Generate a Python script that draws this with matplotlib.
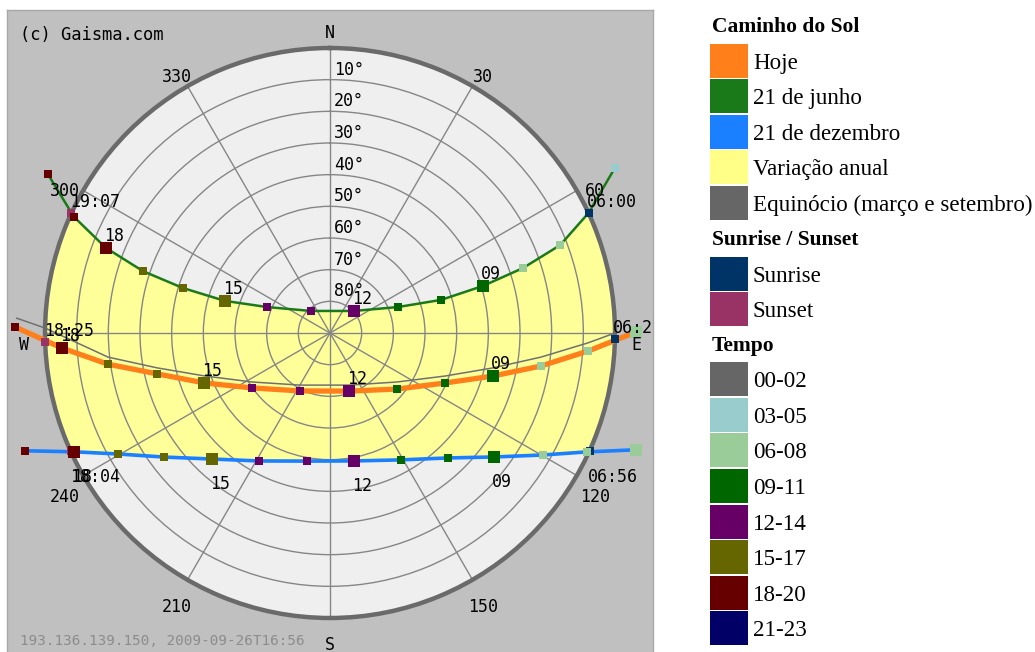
import numpy as np
import matplotlib
matplotlib.use("Agg")
import matplotlib.pyplot as plt
from matplotlib.patches import Rectangle

# ---------------- data (azimuth deg clockwise from N, altitude deg) ----------------
alt_rings = [10, 20, 30, 40, 50, 60, 70, 80]
az_ticks = [0, 30, 60, 90, 120, 150, 180, 210, 240, 270, 300, 330]
az_labels = ["N", "30", "60", "E", "120", "150", "S", "210", "240", "W", "300", "330"]

# 21 June (hourly points)
jun_hours = [5, 6, 7, 8, 9, 10, 11, 12, 13, 14, 15, 16, 17, 18, 19, 20]
jun_az = [59.9, 65.1, 69.1, 71.4, 72.9, 73.4, 69.1, 47.5, 319.2, 292.4, 287.0, 287.0, 288.3, 290.8, 294.4, 299.4]
jun_alt = [-14.0, 0.0, 12.2, 25.7, 39.5, 53.4, 67.0, 79.7, 80.8, 68.5, 55.3, 41.5, 27.8, 14.3, 1.2, -12.3]

# Today (hourly points)
hoje_hours = [6, 7, 8, 9, 10, 11, 12, 13, 14, 15, 16, 17, 18, 19]
hoje_az = [89.8, 94.0, 98.9, 104.8, 113.5, 129.9, 161.9, 207.4, 234.8, 248.4, 256.7, 262.0, 266.8, 271.1]
hoje_alt = [-6.7, 8.3, 22.6, 36.8, 50.4, 62.4, 70.7, 69.4, 59.9, 47.2, 33.9, 19.2, 5.2, -9.5]

# 21 December (hourly points)
dez_hours = [6, 7, 8, 9, 10, 11, 12, 13, 14, 15, 16, 17, 18, 19]
dez_az = [110.9, 114.8, 119.8, 127.1, 136.6, 150.8, 169.4, 190.2, 209.0, 223.1, 233.2, 240.3, 245.1, 248.9]
dez_alt = [-13.4, 0.5, 12.5, 25.1, 35.7, 44.1, 48.9, 48.9, 43.8, 35.5, 24.6, 12.9, 0.9, -13.3]

# Equinox path
equi_az = [272.7, 271.0, 263.8, 258.6, 251.2, 237.9, 210.0, 160.1, 126.2, 110.5, 102.1, 96.5, 92.2, 90.0]
equi_alt = [-9.0, 0.0, 19.5, 34.3, 48.0, 60.9, 71.0, 72.5, 63.8, 51.2, 37.4, 22.9, 8.5, 0.0]

# Sunrise / sunset: [June, Today, December]
rise_az = [65.1, 91.2, 114.4]
rise_alt = [0.0, 0.0, 0.0]
rise_txt = ["06:00", "06:22", "06:56"]
set_az = [294.8, 268.2, 245.5]
set_alt = [0.0, 0.0, 0.0]
set_txt = ["19:07", "18:25", "18:04"]

# Legend
path_labels = ["Hoje", "21 de junho", "21 de dezembro", "Variação anual", "Equinócio (março e setembro)"]
path_colors = ["#ff7f1a", "#1a7a1a", "#1a80ff", "#ffff88", "#666666"]
rs_labels = ["Sunrise", "Sunset"]
rs_colors = ["#003366", "#993366"]
tempo_labels = ["00-02", "03-05", "06-08", "09-11", "12-14", "15-17", "18-20", "21-23"]
tempo_colors = ["#666666", "#99cccc", "#99cc99", "#006600", "#660066", "#666600", "#660000", "#000066"]

copyright_txt = "(c) Gaisma.com"
stamp_txt = "193.136.139.150, 2009-09-26T16:56"

# ---------------- figure ----------------
W, H = 1035, 652
CX, CY, R = 330, 333, 285
MONO = "DejaVu Sans Mono"
SERIF = "Liberation Serif"

fig = plt.figure(figsize=(W / 100, H / 100), dpi=100)
fig.patch.set_facecolor("white")


def px_axes(x0, y0, x1, y1, **kw):
    return fig.add_axes([x0 / W, 1 - y1 / H, (x1 - x0) / W, (y1 - y0) / H], **kw)


bg = px_axes(7, 10, 653, 670)
bg.set_facecolor("#c0c0c0")
bg.set_xticks([])
bg.set_yticks([])
for s in bg.spines.values():
    s.set_color("#a8a8a8")
    s.set_linewidth(1)

ax = px_axes(CX - R, CY - R, CX + R, CY + R, projection="polar")
ax.set_theta_zero_location("N")
ax.set_theta_direction(-1)
ax.set_facecolor("#efefef")
ax.spines["polar"].set_color("#6a6a6a")
ax.spines["polar"].set_linewidth(3.2)

rad = np.deg2rad
GRID = "#868686"

# annual variation region (clipped to the horizon by the axes circle)
poly_t = rad(np.r_[jun_az, dez_az[::-1]])
poly_r = np.r_[jun_alt, dez_alt[::-1]]
ax.fill(poly_t, poly_r, color="#ffff99", lw=0, zorder=1)

# grid
ax.set_xticks(rad(az_ticks))
ax.set_xticklabels([""] * len(az_ticks))
ax.set_yticks(alt_rings)
ax.set_yticklabels([])
ax.grid(True, color=GRID, linewidth=1.0)
ax.tick_params(axis="x", direction="out", length=6, width=1, color=GRID)
ax.tick_params(axis="y", length=0)


def ann(txt, t, r, dx, dy, ha="left", va="baseline", size=12, color="black"):
    a = ax.annotate(txt, (t, r), xytext=(dx, dy), textcoords="offset pixels",
                    ha=ha, va=va, fontsize=size, family=MONO, color=color,
                    annotation_clip=False, zorder=8)
    a.set_clip_box(bg.bbox)
    a.set_clip_on(True)
    return a


# paths
ax.plot(rad(equi_az), equi_alt, color="#707070", lw=1.1, zorder=2, clip_on=False)
ax.plot(rad(dez_az), dez_alt, color=path_colors[2], lw=2.6, zorder=3, clip_on=False)
ax.plot(rad(hoje_az), hoje_alt, color=path_colors[0], lw=3.8, zorder=3, clip_on=False)
ax.plot(rad(jun_az), jun_alt, color=path_colors[1], lw=1.8, zorder=3, clip_on=False)

# sunrise / sunset markers and labels
ax.scatter(rad(rise_az), rise_alt, s=34, marker="s", c=rs_colors[0], linewidths=0, zorder=4, clip_on=False)
ax.scatter(rad(set_az), set_alt, s=34, marker="s", c=rs_colors[1], linewidths=0, zorder=4, clip_on=False)
below = [False, False, True]
for i in range(3):
    dy = -31 if below[i] else 6
    ann(rise_txt[i], rad(rise_az[i]), rise_alt[i], -2, dy)
    ann(set_txt[i], rad(set_az[i]), set_alt[i], -1, dy)

# hourly markers (an hour that coincides with sunrise/sunset shows only that marker)
paths = [(jun_hours, jun_az, jun_alt, False, 0),
         (hoje_hours, hoje_az, hoje_alt, False, 1),
         (dez_hours, dez_az, dez_alt, True, 2)]
for hours, az, alt, lab_below, k in paths:
    keep = [i for i, h in enumerate(hours) if f"{h:02d}:00" not in (rise_txt[k], set_txt[k])]
    hh = [hours[i] for i in keep]
    cols = [tempo_colors[h // 3] for h in hh]
    sizes = [78 if h % 3 == 0 else 34 for h in hh]
    ax.scatter(rad([az[i] for i in keep]), [alt[i] for i in keep], s=sizes, c=cols,
               marker="s", linewidths=0, zorder=5, clip_on=False)
    for h, a_, e_ in zip(hours, az, alt):
        if h % 3 == 0 and 9 <= h <= 18:
            ann(f"{h:02d}", rad(a_), e_, -2, -30 if lab_below else 7)

# altitude labels
for a in alt_rings:
    ann(f"{a}°", 0.0, a, 4, 5)

# azimuth labels (slightly lower on the sides, as in the original)
for t, lab in zip(az_ticks, az_labels):
    ann(lab, rad(t), -6.6, 0, -6 - 6 * abs(np.sin(rad(t))), ha="center", va="center")

ax.set_ylim(90, 0)
ax.set_xlim(0, 2 * np.pi)

# ---------------- overlay (texts + legend) in pixel coordinates ----------------
ov = fig.add_axes([0, 0, 1, 1])
ov.set_xlim(0, W)
ov.set_ylim(H, 0)
ov.axis("off")
ov.patch.set_alpha(0)

ov.text(20, 35, copyright_txt, family=MONO, fontsize=12.3, ha="left", va="center")
ov.text(20, 641, stamp_txt, family=MONO, fontsize=10.3, ha="left", va="center", color="#8c8c8c")

LX, SW, SH, ROW = 710, 38, 34, 35.6


def group(y_header, title, labels, colors):
    ov.text(LX + 2, y_header, title, family=SERIF, fontweight="bold", fontsize=15.5,
            ha="left", va="center")
    top = y_header + 16.5
    for i, (lab, col) in enumerate(zip(labels, colors)):
        y = top + i * ROW
        ov.add_patch(Rectangle((LX, y), SW, SH, facecolor=col, edgecolor="none"))
        ov.text(LX + 43, y + SH / 2 + 2.5, lab, family=SERIF, fontsize=16.6, ha="left", va="center")
    return top + len(labels) * ROW


end = group(27, "Caminho do Sol", path_labels, path_colors)
end = group(end + 18.5, "Sunrise / Sunset", rs_labels, rs_colors)
group(end + 18, "Tempo", tempo_labels, tempo_colors)

fig.savefig("out.png", dpi=100, facecolor="white")
